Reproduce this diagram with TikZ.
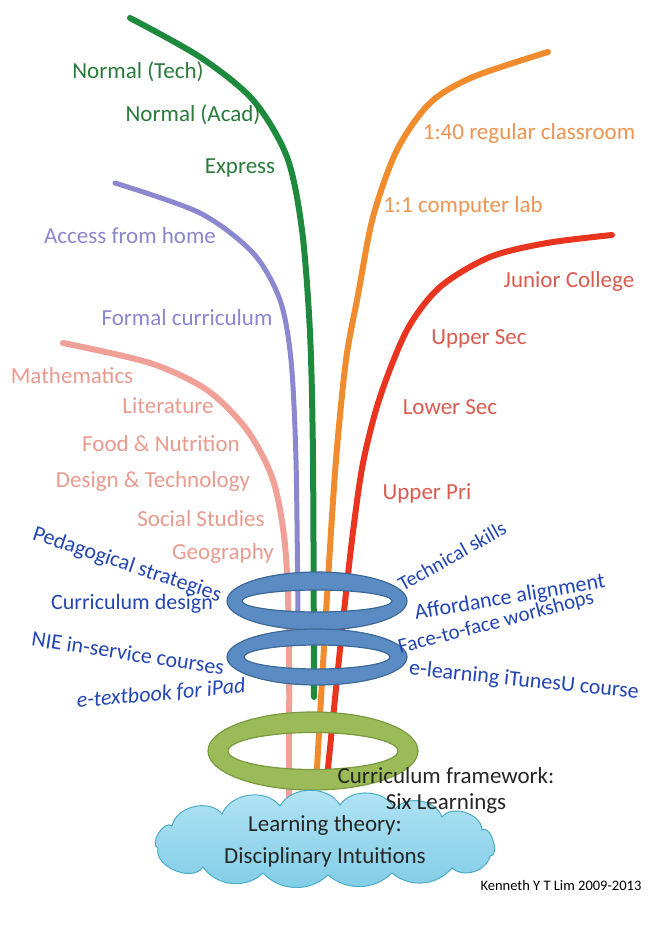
\documentclass[tikz,border=0pt]{standalone}
\usepackage{fontspec}
\setmainfont{Carlito}
\definecolor{gline}{HTML}{1E8A3E}
\definecolor{gtext}{HTML}{2A7A3C}
\definecolor{pline}{HTML}{8C88CF}
\definecolor{ptext}{HTML}{8A86D0}
\definecolor{kline}{HTML}{F0A096}
\definecolor{ktext}{HTML}{E99A8F}
\definecolor{oline}{HTML}{F18C2E}
\definecolor{otext}{HTML}{EE9350}
\definecolor{rline}{HTML}{E9341F}
\definecolor{rtext}{HTML}{D95B50}
\definecolor{btext}{HTML}{2346B4}
\definecolor{ringfill}{HTML}{5A8BC3}
\definecolor{ringedge}{HTML}{3D6999}
\definecolor{gringfill}{HTML}{9BBB59}
\definecolor{gringedge}{HTML}{7A9A3F}
\definecolor{cloudtop}{HTML}{B4E4F4}
\definecolor{cloudbot}{HTML}{7FCCE6}
\definecolor{cloudedge}{HTML}{4BACC6}
\begin{document}
\begin{tikzpicture}[x=1pt,y=-1pt,
  lab/.style={inner sep=0pt, font=\fontsize{23}{27}\selectfont},
  blab/.style={inner sep=0pt, text=btext, font=\fontsize{22}{26}\selectfont},
  strand/.style={line width=6pt, line cap=round},
  ring/.style={even odd rule, line width=1.2pt},
  puff/.style={bend left=#1}]
\useasboundingbox (0,0) rectangle (648,926);
% strands
\draw[strand, kline] plot[smooth] coordinates {(63,343) (150,363) (207,390) (247,430) (273,480) (285,545) (289,640) (289,800)};
\draw[strand, pline, line width=5pt] plot[smooth] coordinates {(115,183) (200,213) (253,253) (280,300) (291,360) (296,460) (298,620)};
\draw[strand, gline] plot[smooth] coordinates {(130,18) (200,57) (253,100) (287,157) (302,230) (310,333) (313,460) (314,697)};
\draw[strand, oline] plot[smooth] coordinates {(548,52) (473,77) (430,103) (397,150) (373,217) (358,295) (346,360) (336,460) (328,580) (317,768)};
\draw[strand, rline] plot[smooth] coordinates {(612,235) (547,243) (490,257) (440,287) (407,330) (380,397) (363,463) (352,540) (341,640) (328,768)};
% rings
\path[ring, draw=ringedge, fill=ringfill] (317,601) ellipse [x radius=90, y radius=29] (317,601) ellipse [x radius=75, y radius=11];
\path[ring, draw=ringedge, fill=ringfill] (317,657) ellipse [x radius=90, y radius=28] (317,657) ellipse [x radius=73, y radius=12];
\path[ring, draw=gringedge, fill=gringfill] (313,751) ellipse [x radius=105, y radius=39] (313,751) ellipse [x radius=85, y radius=18.5];
% cloud
\path[draw=cloudedge, line width=1pt, top color=cloudtop, bottom color=cloudbot]
  (158,848) to[puff=100] (172,826) to[puff=65] (222,814) to[puff=60] (280,806)
  to[puff=60] (340,805) to[puff=60] (395,809) to[puff=60] (442,817)
  to[puff=70] (482,830) to[puff=110] (490,856) to[puff=60] (452,868)
  to[puff=45] (392,873) to[puff=42] (328,875) to[puff=45] (263,873)
  to[puff=50] (203,867) to[puff=80] cycle;
\node[inner sep=0pt, align=center, font=\fontsize{23}{32}\selectfont, text=black!85] (theory) at (325,841) {Learning theory:\\Disciplinary Intuitions};
% green labels
\node[lab, text=gtext] (ntech) at (138,72) {Normal (Tech)};
\node[lab, text=gtext] (nacad) at (193,115) {Normal (Acad)};
\node[lab, text=gtext] (express) at (240,168) {Express};
% purple labels
\node[lab, text=ptext] (home) at (130,236) {Access from home};
\node[lab, text=ptext] (formal) at (187,318) {Formal curriculum};
% pink labels
\node[lab, text=ktext] (math) at (72,376) {Mathematics};
\node[lab, text=ktext] (lit) at (168,406) {Literature};
\node[lab, text=ktext] (food) at (161,444) {Food \& Nutrition};
\node[lab, text=ktext] (dt) at (153,481) {Design \& Technology};
\node[lab, text=ktext] (ss) at (201,519) {Social Studies};
\node[lab, text=ktext] (geo) at (223,553) {Geography};
% orange labels
\node[lab, text=otext] (c40) at (529,133) {1:40 regular classroom};
\node[lab, text=otext] (c1) at (463,206) {1:1 computer lab};
% red labels
\node[lab, text=rtext] (jc) at (569,281) {Junior College};
\node[lab, text=rtext] (us) at (479,339) {Upper Sec};
\node[lab, text=rtext] (ls) at (450,407) {Lower Sec};
\node[lab, text=rtext] (up) at (427,493) {Upper Pri};
% blue labels left
\node[blab, rotate=-18.5] (ped) at (127,565) {Pedagogical strategies};
\node[blab] (cd) at (132,604) {Curriculum design};
\node[blab, rotate=-8.6] (nie) at (128,653) {NIE in-service courses};
\node[blab, rotate=5, font=\fontsize{22}{26}\selectfont\itshape] (etb) at (161,694) {e-textbook for iPad};
% blue labels right
\node[blab, rotate=29.4, font=\fontsize{20.5}{24}\selectfont] (tech) at (452,556) {Technical skills};
\node[blab, rotate=9.5] (aff) at (510,598) {Affordance alignment};
\node[blab, rotate=14.6, font=\fontsize{21}{25}\selectfont] (f2f) at (496,623) {Face-to-face workshops};
\node[blab, rotate=-5.9] (itu) at (524,681) {e-learning iTunesU course};
% framework label
\node[lab, align=center, text=black!85, font=\fontsize{23}{26}\selectfont] (fw) at (446,790) {Curriculum framework:\\Six Learnings};
% credit
\node[inner sep=0pt, font=\fontsize{14.5}{17}\selectfont, text=black] (credit) at (561,886) {Kenneth Y T Lim 2009-2013};
\end{tikzpicture}
\end{document}
